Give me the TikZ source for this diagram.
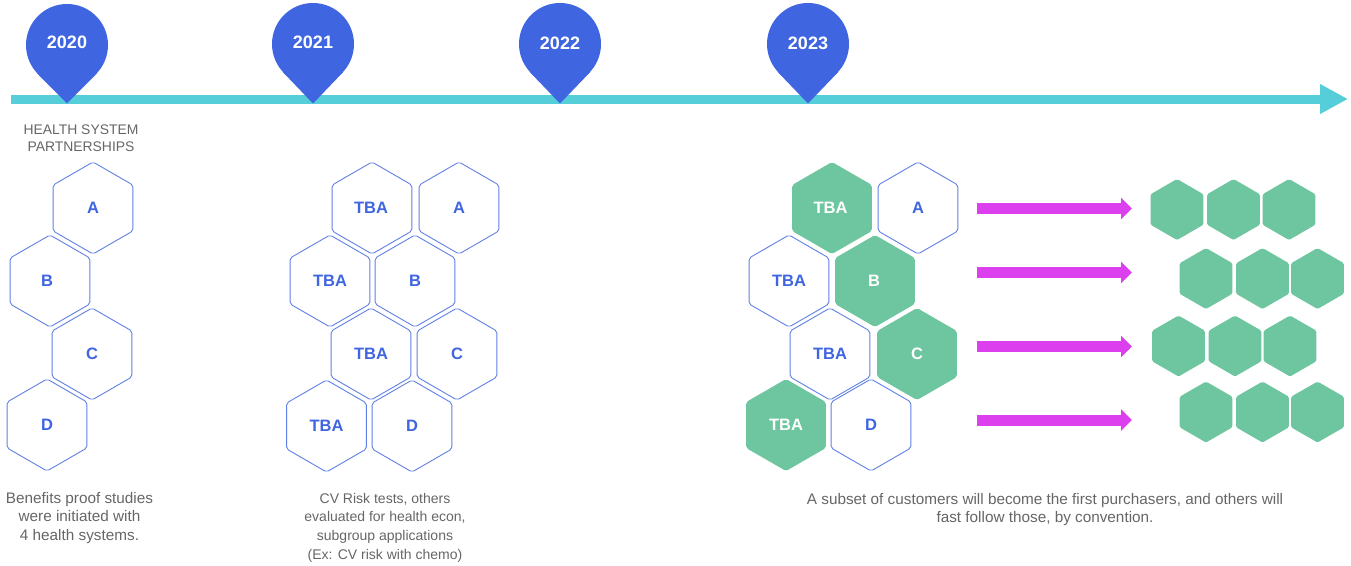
\documentclass[tikz,border=0pt]{standalone}
\usepackage{fontspec}
\setmainfont{Liberation Sans}
\usetikzlibrary{shapes.geometric,arrows.meta}
\definecolor{pinblue}{HTML}{3F65E0}
\definecolor{hexline}{HTML}{5F80E4}
\definecolor{axisteal}{HTML}{55CEDA}
\definecolor{hexgreen}{HTML}{6EC6A0}
\definecolor{arrowmag}{HTML}{DC3FEE}
\definecolor{capgray}{HTML}{666666}
\tikzset{
  pinhead/.style={circle,fill=pinblue,draw=none,inner sep=0pt,minimum size=82pt,text=white,font=\bfseries\fontsize{18}{20}\selectfont},
  pinfill/.style={fill=pinblue,draw=none},
  hexshape/.style={regular polygon,regular polygon sides=6,shape border rotate=30,inner sep=0pt,outer sep=0pt,minimum size=92pt,rounded corners=2pt,font=\bfseries\fontsize{16.5}{18}\selectfont},
  hexopen/.style={hexshape,draw=hexline,line width=0.9pt,fill=white,text=pinblue},
  hexfull/.style={hexshape,fill=hexgreen,draw=none,text=white},
  hexsmall/.style={regular polygon,regular polygon sides=6,shape border rotate=30,inner sep=0pt,outer sep=0pt,minimum size=61pt,rounded corners=1.5pt,fill=hexgreen,draw=none},
  caption/.style={align=center,text=capgray,font=\fontsize{15.3}{18.6}\selectfont},
  captionsmall/.style={align=center,text=capgray,font=\fontsize{14}{18.6}\selectfont},
  heading/.style={align=center,text=capgray,font=\fontsize{13.9}{16.6}\selectfont},
  axisline/.style={draw=axisteal,line width=9pt,-{Triangle[length=28pt,width=28pt,fill=axisteal]}},
  blockarrow/.style={draw=arrowmag,line width=11pt,-{Triangle[length=11pt,width=21pt,fill=arrowmag]}},
}
\begin{document}
\begin{tikzpicture}[x=1pt,y=-1pt]
\useasboundingbox (0,0) rectangle (1351,565);
% axis
\coordinate (axisstart) at (11,99);
\coordinate (axisend) at (1348,99);
\draw[axisline] (axisstart) -- (axisend);
% pins
\foreach \yr/\px/\py/\ty in {2020/67/45/6,2021/313/44/4,2022/560/44/2.5,2023/808/44/2.5}{
  \node[pinhead] (y\yr) at (\px,\py) {\raisebox{\ty pt}{\yr}};
  \coordinate (t\yr) at (\px,103.5);
  \fill[pinfill] (y\yr.223.5) -- (t\yr) -- (y\yr.-43.5) -- cycle;
}
\node[heading] (head) at (81,138) {HEALTH SYSTEM\\PARTNERSHIPS};
% column 2020
\node[hexopen] (a1) at (93,208) {A};
\node[hexopen] (b1) at (50,281) {\kern-6pt B};
\node[hexopen] (c1) at (92,354) {C};
\node[hexopen] (d1) at (47,425) {D};
% column 2021
\node[hexopen] (t21) at (372,208) {\kern-2pt TBA};
\node[hexopen] (a2) at (459,208) {A};
\node[hexopen] (t22) at (330,281) {TBA};
\node[hexopen] (b2) at (415,281) {B};
\node[hexopen] (t23) at (371,354) {TBA};
\node[hexopen] (c2) at (457,354) {C};
\node[hexopen] (t24) at (326.5,426) {TBA};
\node[hexopen] (d2) at (412,426) {D};
% column 2023
\node[hexfull] (t31) at (832,208) {\kern-3pt TBA};
\node[hexopen] (a3) at (918,208) {A};
\node[hexopen] (t32) at (789,281) {TBA};
\node[hexfull] (b3) at (875,281) {\kern-2pt B};
\node[hexopen] (t33) at (830,354) {TBA};
\node[hexfull] (c3) at (917,354) {C};
\node[hexfull] (t34) at (786,425) {TBA};
\node[hexopen] (d3) at (871,425) {D};
% small green
\foreach \n/\px/\py in {r11/1177/209.5,r12/1233.5/209.5,r13/1289/209.5,
  r21/1206/278.5,r22/1262.5/278.5,r23/1317.5/278.5,
  r31/1178.5/346,r32/1235/346,r33/1290/346,
  r41/1206/412,r42/1262.5/412,r43/1317.5/412}{
  \node[hexsmall] (\n) at (\px,\py) {};
}
% arrows
\foreach \n/\py in {1/208.5,2/272.5,3/346.5,4/420}{
  \coordinate (as\n) at (977,\py);
  \coordinate (ae\n) at (1132,\py);
  \draw[blockarrow] (as\n) -- (ae\n);
}
% captions
\node[caption] (cap1) at (79.5,518) {Benefits proof studies\\were initiated with\\4 health systems.};
\node[captionsmall] (cap2) at (385,527.5) {CV Risk tests, others\\evaluated for health econ,\\subgroup applications\\(Ex: CV risk with chemo)};
\node[caption] (cap3) at (1045,509.5) {A subset of customers will become the first purchasers, and others will\\fast follow those, by convention.};
\end{tikzpicture}
\end{document}
